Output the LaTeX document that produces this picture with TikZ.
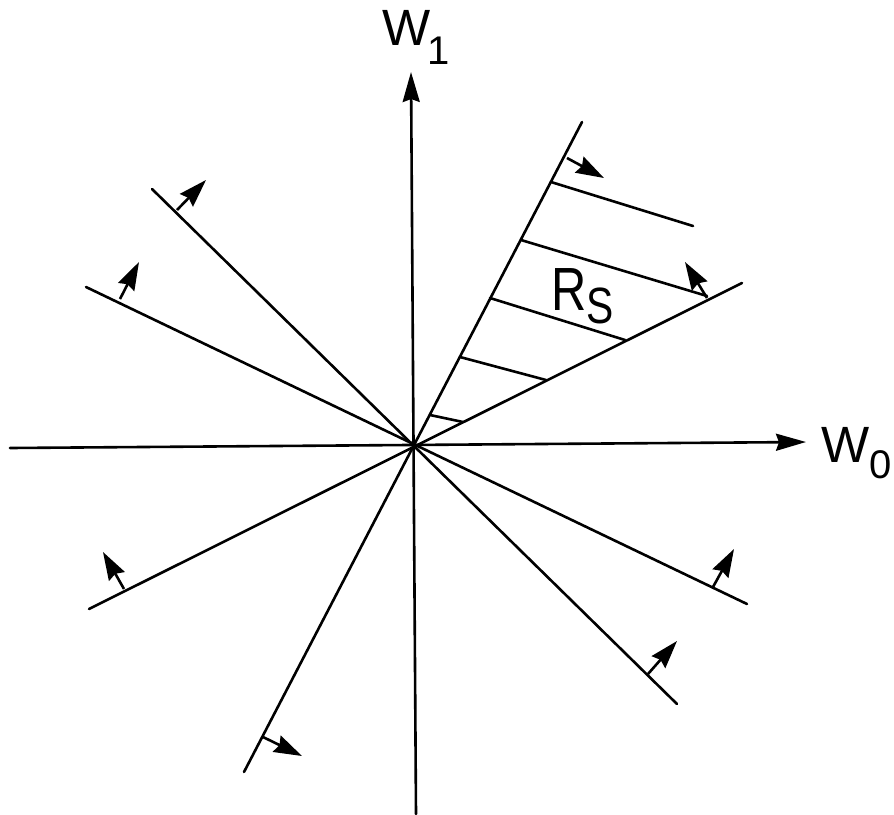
\documentclass[tikz,border=0pt]{standalone}
\usepackage{fontspec}
\setmainfont{Liberation Sans}
\usetikzlibrary{arrows.meta}
\tikzset{
  ln/.style={line width=2.6pt, line cap=round},
  axis/.style={ln, -{Stealth[length=30pt,width=17pt,inset=3pt]}},
  normal/.style={line width=2.6pt, -{Stealth[length=28pt,width=18pt,inset=3pt]}},
  hatch/.style={ln},
  lbl/.style={inner sep=0pt, anchor=base west}
}
\begin{document}
\begin{tikzpicture}[x=1pt,y=-1pt]
\useasboundingbox (0,0) rectangle (894,814);
% origin
\coordinate (O) at (413,446);
% axes
\coordinate (xl) at (10,448);
\coordinate (xr) at (806,442);
\coordinate (yb) at (416,814);
\coordinate (yt) at (411,72);
\draw[axis] (xl) -- (xr);
\draw[axis] (yb) -- (yt);
% lines through the origin
\coordinate (L1a) at (152,189); \coordinate (L1b) at (677,704);
\coordinate (L2a) at (86,287);  \coordinate (L2b) at (747,604);
\coordinate (L3a) at (89,609);  \coordinate (L3b) at (742,283);
\coordinate (L4a) at (244,772); \coordinate (L4b) at (582,122);
\draw[ln] (L1a) -- (L1b);
\draw[ln] (L2a) -- (L2b);
\draw[ln] (L3a) -- (L3b);
\draw[ln] (L4a) -- (L4b);
% normal arrows
\coordinate (n1a) at (177,210); \coordinate (n1b) at (206,180);
\coordinate (n2a) at (120,299); \coordinate (n2b) at (139,262);
\coordinate (n3a) at (124,589); \coordinate (n3b) at (103,552);
\coordinate (n4a) at (713,587); \coordinate (n4b) at (734,549);
\coordinate (n5a) at (648,674); \coordinate (n5b) at (677,641);
\coordinate (n6a) at (263,737); \coordinate (n6b) at (302,756);
\coordinate (n7a) at (567,158); \coordinate (n7b) at (604,178);
\coordinate (n8a) at (707,298); \coordinate (n8b) at (685,262);
\foreach \i in {1,...,8} {\draw[normal] (n\i a) -- (n\i b);}
% hatching of R_S
\coordinate (h1a) at (551,182); \coordinate (h1b) at (693,226);
\coordinate (h2a) at (521,240); \coordinate (h2b) at (707,296);
\coordinate (h3a) at (490,298); \coordinate (h3b) at (625,340);
\coordinate (h4a) at (460,357); \coordinate (h4b) at (546,380);
\coordinate (h5a) at (430,415); \coordinate (h5b) at (463,422);
\foreach \i in {1,...,5} {\draw[hatch] (h\i a) -- (h\i b);}
% labels
\node[lbl] (w1) at (382,45) {\fontsize{51}{53}\selectfont W};
\node[lbl] (w1s) at (427,64) {\fontsize{40}{42}\selectfont 1};
\node[lbl] (w0) at (821,462) {\fontsize{51}{53}\selectfont W};
\node[lbl] (w0s) at (869,478) {\fontsize{40}{42}\selectfont 0};
\node[lbl] (rs) at (551,310) {\scalebox{0.8}[1]{\fontsize{61}{63}\selectfont R}};
\node[lbl] (rss) at (586,323) {\scalebox{0.8}[1]{\fontsize{51}{53}\selectfont S}};
\end{tikzpicture}
\end{document}
